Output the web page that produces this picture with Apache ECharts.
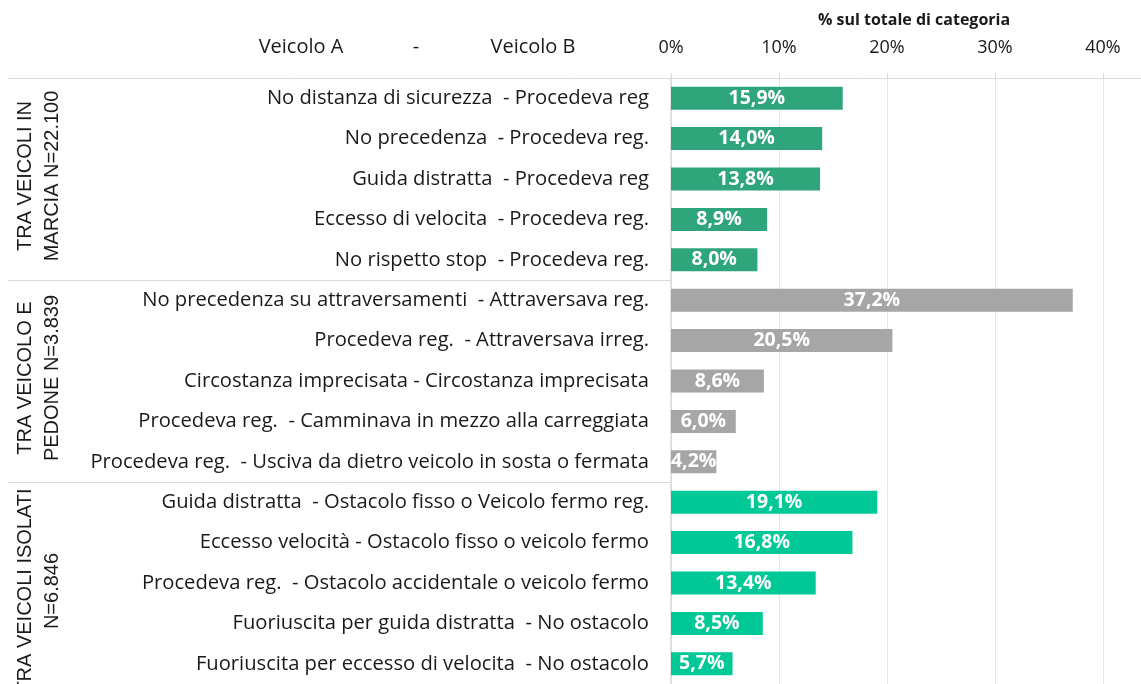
<!DOCTYPE html>
<html>
<head>
<meta charset="utf-8">
<script src="https://cdn.jsdelivr.net/npm/echarts@6.0.0/dist/echarts.min.js"></script>
<style>
  html, body { margin: 0; padding: 0; background: #fff; }
  #chart { width: 1141px; height: 684px; }
</style>
</head>
<body>
<div id="chart"></div>
<script>
  // --- Data ---
  const groupNames = [
    'TRA VEICOLI IN\nMARCIA N=22.100',
    'TRA VEICOLO E\nPEDONE N=3.839',
    'TRA VEICOLI ISOLATI\nN=6.846'
  ];
  const groupSizes = [5, 5, 5];
  const groupColors = ['#2ea57a', '#a6a6a6', '#00c896'];

  const categories = [
    'No distanza di sicurezza  - Procedeva reg',
    'No precedenza  - Procedeva reg.',
    'Guida distratta  - Procedeva reg',
    'Eccesso di velocita  - Procedeva reg.',
    'No rispetto stop  - Procedeva reg.',
    'No precedenza su attraversamenti  - Attraversava reg.',
    'Procedeva reg.  - Attraversava irreg.',
    'Circostanza imprecisata - Circostanza imprecisata',
    'Procedeva reg.  - Camminava in mezzo alla carreggiata',
    'Procedeva reg.  - Usciva da dietro veicolo in sosta o fermata',
    'Guida distratta  - Ostacolo fisso o Veicolo fermo reg.',
    'Eccesso velocità - Ostacolo fisso o veicolo fermo',
    'Procedeva reg.  - Ostacolo accidentale o veicolo fermo',
    'Fuoriuscita per guida distratta  - No ostacolo',
    'Fuoriuscita per eccesso di velocita  - No ostacolo'
  ];
  const values = [15.9, 14.0, 13.8, 8.9, 8.0, 37.2, 20.5, 8.6, 6.0, 4.2, 19.1, 16.8, 13.4, 8.5, 5.7];

  const xTicks = [0, 10, 20, 30, 40];
  const axisTitle = '% sul totale di categoria';
  const headerTexts = ['Veicolo A', '-', 'Veicolo B'];

  const FONT = '"Open Sans", sans-serif';

  // group index of each row
  const rowGroup = [];
  groupSizes.forEach((n, g) => { for (let i = 0; i < n; i++) rowGroup.push(g); });

  const chart = echarts.init(document.getElementById('chart'), null, { renderer: 'canvas' });

  const option = {
    animation: false,
    grid: { left: 671, right: 38, top: 78, height: 613, containLabel: false },
    xAxis: {
      type: 'value',
      position: 'top',
      min: xTicks[0],
      max: xTicks[xTicks.length - 1],
      interval: 10,
      axisLine: { show: false },
      axisTick: { show: true, length: 5, lineStyle: { color: '#d9d9d9' } },
      splitLine: { show: true, lineStyle: { color: '#e6e6e6', width: 1 } },
      axisLabel: {
        formatter: '{value}%',
        fontSize: 18,
        fontFamily: FONT,
        color: '#1a1a1a',
        margin: 21
      }
    },
    yAxis: {
      type: 'category',
      inverse: true,
      data: categories,
      axisLine: { show: true, lineStyle: { color: '#d9d9d9', width: 1.5 } },
      axisTick: { show: false },
      axisLabel: {
        fontSize: 20.2,
        fontFamily: FONT,
        color: '#1a1a1a',
        margin: 22
      }
    },
    series: [{
      type: 'bar',
      barWidth: 23,
      data: values.map((v, i) => ({
        value: v,
        itemStyle: { color: groupColors[rowGroup[i]] }
      })),
      label: {
        show: true,
        position: 'inside',
        formatter: p => p.value.toFixed(1).replace('.', ',') + '%',
        color: '#fff',
        fontWeight: 'bold',
        fontSize: 19.5,
        fontFamily: FONT
      }
    }]
  };

  chart.setOption(option);

  // --- Decorations placed through the axes ---
  function buildGraphics() {
    const first = chart.convertToPixel({ yAxisIndex: 0 }, 0);
    const second = chart.convertToPixel({ yAxisIndex: 0 }, 1);
    const band = second - first;
    const x0 = chart.convertToPixel({ xAxisIndex: 0 }, 0);
    const topY = first - band / 2;
    const els = [];

    // top border line
    els.push({
      type: 'line', shape: { x1: 8, y1: Math.round(topY) + 0.5, x2: 1141, y2: Math.round(topY) + 0.5 },
      style: { stroke: '#d9d9d9', lineWidth: 1 }, z: 10
    });

    let start = 0;
    groupSizes.forEach((n, g) => {
      const yStart = first + (start - 0.5) * band;
      const yEnd = first + (start + n - 0.5) * band;
      if (g < groupSizes.length - 1) {
        els.push({
          type: 'line', shape: { x1: 8, y1: Math.round(yEnd) + 0.5, x2: x0, y2: Math.round(yEnd) + 0.5 },
          style: { stroke: '#d9d9d9', lineWidth: 1 }, z: 10
        });
      }
      // last group sits a bit lower (its band is cut by the bottom edge)
      const shift = g === groupSizes.length - 1 ? 8 : -3;
      els.push({
        type: 'text',
        x: 39, y: (yStart + yEnd) / 2 + shift,
        rotation: Math.PI / 2,
        style: {
          text: groupNames[g],
          align: 'center', verticalAlign: 'middle',
          fontSize: 20, lineHeight: 27,
          fontFamily: '"Liberation Sans", Arial, sans-serif',
          fill: '#1a1a1a'
        }
      });
      start += n;
    });

    // header texts
    const headerX = [301, 416, 533];
    headerTexts.forEach((t, i) => {
      els.push({
        type: 'text', x: headerX[i], y: 47,
        style: { text: t, align: 'center', verticalAlign: 'middle', fontSize: 20, fontFamily: FONT, fill: '#1a1a1a' }
      });
    });

    els.push({
      type: 'text', x: 914, y: 20,
      style: { text: axisTitle, align: 'center', verticalAlign: 'middle', fontSize: 16, fontWeight: 'bold', fontFamily: FONT, fill: '#1a1a1a' }
    });

    chart.setOption({ graphic: els });
  }
  buildGraphics();
</script>
</body>
</html>
